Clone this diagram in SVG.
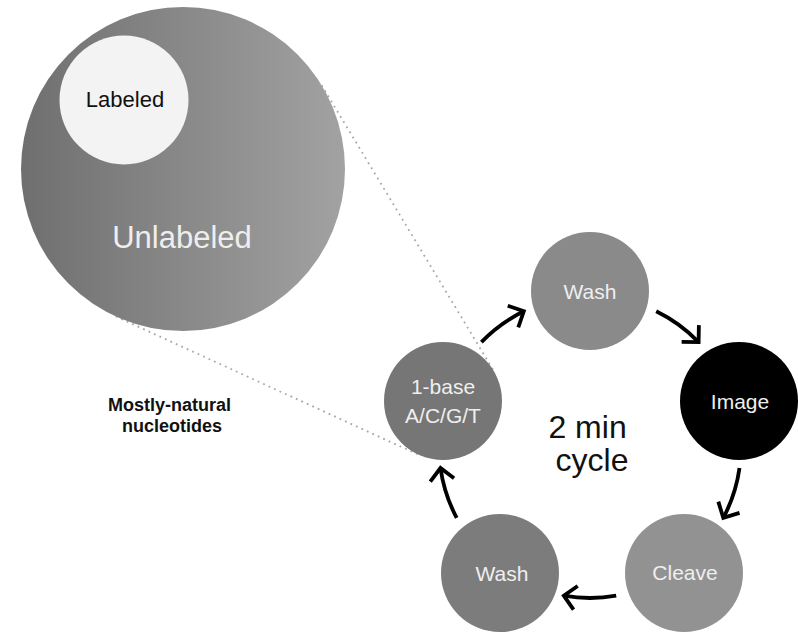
<svg xmlns="http://www.w3.org/2000/svg" width="798" height="632" viewBox="0 0 798 632">
  <defs>
    <linearGradient id="bigGrad" x1="0" y1="0" x2="1" y2="0">
      <stop offset="0" stop-color="#6f6f6f"/>
      <stop offset="1" stop-color="#a2a2a2"/>
    </linearGradient>
    <marker id="chev" markerUnits="userSpaceOnUse" viewBox="-16 -16 32 32" markerWidth="32" markerHeight="32" refX="0" refY="0" orient="auto">
      <path d="M -12 -12 L 0 0 L -12 12" fill="none" stroke="#000" stroke-width="3.8" stroke-linejoin="miter"/>
    </marker>
    <style>
      .lbl { font-family: "Liberation Sans", Arial, sans-serif; font-size: 21px; fill: #efefef; text-anchor: middle; }
      .arrow { fill: none; stroke: #000; stroke-width: 3.8; marker-end: url(#chev); }
      .dots { fill: none; stroke: #a8a8a8; stroke-width: 1.8; stroke-dasharray: 1.8 4.2; }
    </style>
  </defs>
  <rect width="798" height="632" fill="#fff"/>

  <g id="connectors">
    <line class="dots" x1="321.7" y1="85.3" x2="493.5" y2="370.5"/>
    <line class="dots" x1="115.8" y1="316.4" x2="418.5" y2="454.7"/>
    <path class="arrow" d="M 481.4 342.1 A 151 151 0 0 1 523.8 311.3"/>
    <path class="arrow" d="M 656.2 311.3 A 151 151 0 0 1 698.6 342.1"/>
    <path class="arrow" d="M 739.5 468.0 A 151 151 0 0 1 723.3 517.9"/>
    <path class="arrow" d="M 616.2 595.7 A 151 151 0 0 1 563.8 595.7"/>
    <path class="arrow" d="M 456.7 517.9 A 151 151 0 0 1 440.5 468.0"/>
  </g>

  <g id="unlabeled">
    <circle cx="183" cy="169" r="162" fill="url(#bigGrad)"/>
    <text x="182" y="248" font-family="Liberation Sans, Arial, sans-serif" font-size="31" fill="#eeeeee" text-anchor="middle">Unlabeled</text>
  </g>
  <g id="labeled">
    <circle cx="124" cy="100" r="64.5" fill="#f3f3f3"/>
    <text x="125" y="107" font-family="Liberation Sans, Arial, sans-serif" font-size="22" fill="#111" text-anchor="middle">Labeled</text>
  </g>

  <g id="mostly-natural">
    <text font-family="Liberation Sans, Arial, sans-serif" font-size="18" font-weight="bold" fill="#111" text-anchor="middle">
      <tspan x="172" y="411">Mostly-natural</tspan>
      <tspan x="172" y="432">nucleotides</tspan>
    </text>
  </g>

  <g id="node-1base">
    <circle cx="443" cy="401" r="59" fill="#767676"/>
    <text class="lbl"><tspan x="443" y="394">1-base</tspan><tspan x="443" y="423">A/C/G/T</tspan></text>
  </g>
  <g id="node-wash-top">
    <circle cx="590" cy="291" r="59" fill="#8a8a8a"/>
    <text class="lbl" x="590" y="299">Wash</text>
  </g>
  <g id="node-image">
    <circle cx="739" cy="401" r="59" fill="#000"/>
    <text class="lbl" x="740" y="409">Image</text>
  </g>
  <g id="node-cleave">
    <circle cx="684" cy="573" r="59" fill="#929292"/>
    <text class="lbl" x="685" y="580">Cleave</text>
  </g>
  <g id="node-wash-bottom">
    <circle cx="500" cy="573" r="59" fill="#7c7c7c"/>
    <text class="lbl" x="502" y="581">Wash</text>
  </g>

  <g id="cycle-label">
    <text font-family="Liberation Sans, Arial, sans-serif" font-size="32" fill="#111" text-anchor="middle">
      <tspan x="592" y="438">2 min</tspan>
      <tspan x="592" y="471">cycle</tspan>
    </text>
  </g>
</svg>
